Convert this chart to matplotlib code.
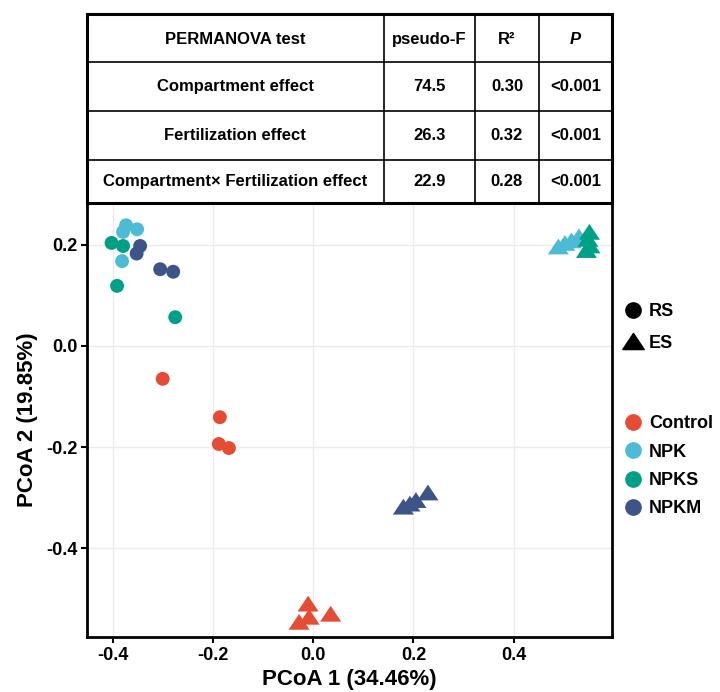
import matplotlib
matplotlib.use("Agg")
import matplotlib.pyplot as plt
from matplotlib.lines import Line2D
import numpy as np

plt.rcParams['font.family'] = ['Liberation Sans', 'DejaVu Sans']

# ---------------- data ----------------
groups = ["Control", "NPK", "NPKS", "NPKM"]
colors = ["#E64B35", "#4DBBD5", "#00A087", "#3C5488"]

# RS (circles)
rs_x = {
    "Control": [-0.300, -0.186, -0.188, -0.168],
    "NPK":     [-0.373, -0.351, -0.379, -0.381],
    "NPKS":    [-0.402, -0.379, -0.391, -0.275],
    "NPKM":    [-0.345, -0.352, -0.305, -0.279],
}
rs_y = {
    "Control": [-0.065, -0.141, -0.194, -0.202],
    "NPK":     [0.239, 0.231, 0.226, 0.168],
    "NPKS":    [0.204, 0.198, 0.119, 0.057],
    "NPKM":    [0.198, 0.183, 0.152, 0.147],
}
# ES (triangles)
es_x = {
    "Control": [-0.010, -0.008, -0.028, 0.035],
    "NPK":     [0.489, 0.502, 0.515, 0.530],
    "NPKS":    [0.551, 0.548, 0.552, 0.545],
    "NPKM":    [0.180, 0.193, 0.205, 0.229],
}
es_y = {
    "Control": [-0.510, -0.536, -0.546, -0.530],
    "NPK":     [0.197, 0.204, 0.209, 0.217],
    "NPKS":    [0.226, 0.212, 0.199, 0.190],
    "NPKM":    [-0.318, -0.312, -0.305, -0.290],
}

xticks = [-0.4, -0.2, 0.0, 0.2, 0.4]
yticks = [-0.4, -0.2, 0.0, 0.2]

table_header = ["PERMANOVA test", "pseudo-F", "R²", "P"]
table_effects = ["Compartment effect", "Fertilization effect", "Compartment× Fertilization effect"]
table_F = ["74.5", "26.3", "22.9"]
table_R2 = ["0.30", "0.32", "0.28"]
table_P = ["<0.001", "<0.001", "<0.001"]

# ---------------- figure ----------------
fig = plt.figure(figsize=(7.2, 6.92), dpi=100)
ax = fig.add_axes([0.1208, 0.0795, 0.7292, 0.6271])

tri = [(-1, -0.75), (1, -0.75), (0, 0.75), (-1, -0.75)]

for g, c in zip(groups, colors):
    ax.scatter(rs_x[g], rs_y[g], s=100, marker='o', color=c, edgecolors='none', zorder=3)
for g, c in zip(groups, colors):
    ax.scatter(es_x[g], es_y[g], s=230, marker=tri, color=c, edgecolors='none', zorder=3)

ax.set_xlim(-0.451, 0.596)
ax.set_ylim(-0.576, 0.283)
ax.set_xticks(xticks)
ax.set_yticks(yticks)
ax.set_xticklabels([f"{t:.1f}" for t in xticks], fontsize=13, fontweight='bold')
ax.set_yticklabels([f"{t:.1f}" for t in yticks], fontsize=13, fontweight='bold')
ax.grid(True, color='#EBEBEB', linewidth=1.0, zorder=0)
ax.set_axisbelow(True)
for sp in ax.spines.values():
    sp.set_linewidth(2.0)
    sp.set_color('black')
ax.tick_params(direction='out', length=4, width=1.5, color='black', pad=3)
ax.set_xlabel("PCoA 1 (34.46%)", fontsize=16, fontweight='bold', labelpad=4)
ax.set_ylabel("PCoA 2 (19.85%)", fontsize=16, fontweight='bold', labelpad=6)

# ---------------- legends ----------------
shape_handles = [
    Line2D([], [], marker='o', color='black', linestyle='none', markersize=11),
    Line2D([], [], marker=tri, color='black', linestyle='none', markersize=15.5),
]
leg1 = fig.legend(shape_handles, ["RS", "ES"], loc='upper left',
                  bbox_to_anchor=(0.851, 0.575), frameon=False,
                  prop={'size': 13, 'weight': 'bold'}, handlelength=1.2,
                  handletextpad=0.3, labelspacing=0.8, borderpad=0)
color_handles = [Line2D([], [], marker='o', color=c, linestyle='none', markersize=11)
                 for c in colors]
leg2 = fig.legend(color_handles, groups, loc='upper left',
                  bbox_to_anchor=(0.851, 0.413), frameon=False,
                  prop={'size': 13, 'weight': 'bold'}, handlelength=1.2,
                  handletextpad=0.3, labelspacing=0.63, borderpad=0)

# ---------------- table ----------------
tax = fig.add_axes([0.1208, 0.7066, 0.7292, 0.2735])
tax.set_xlim(0, 1)
tax.set_ylim(0, 1)
tax.axis('off')
col_edges = [0.0, 0.5651, 0.7396, 0.8604, 1.0]
row_edges = [1.0, 0.745, 0.487, 0.227, 0.0]
for xe in col_edges[1:-1]:
    tax.plot([xe, xe], [0, 1], color='black', lw=1.2, solid_capstyle='butt')
for ye in row_edges[1:-1]:
    tax.plot([0, 1], [ye, ye], color='black', lw=1.2, solid_capstyle='butt')
tax.plot([0, 1, 1, 0, 0], [0, 0, 1, 1, 0], color='black', lw=2.2,
         solid_joinstyle='miter', clip_on=False)

rows = [table_header] + [[e, f, r, p] for e, f, r, p in zip(table_effects, table_F, table_R2, table_P)]
for i, row in enumerate(rows):
    yc = (row_edges[i] + row_edges[i + 1]) / 2 - (0.01 if i == 0 else 0)
    for j, txt in enumerate(row):
        xc = (col_edges[j] + col_edges[j + 1]) / 2
        style = 'italic' if (i == 0 and j == 3) else 'normal'
        tax.text(xc, yc, txt, ha='center', va='center', fontsize=12,
                 fontweight='bold', fontstyle=style)

fig.savefig("out.png", dpi=100)
